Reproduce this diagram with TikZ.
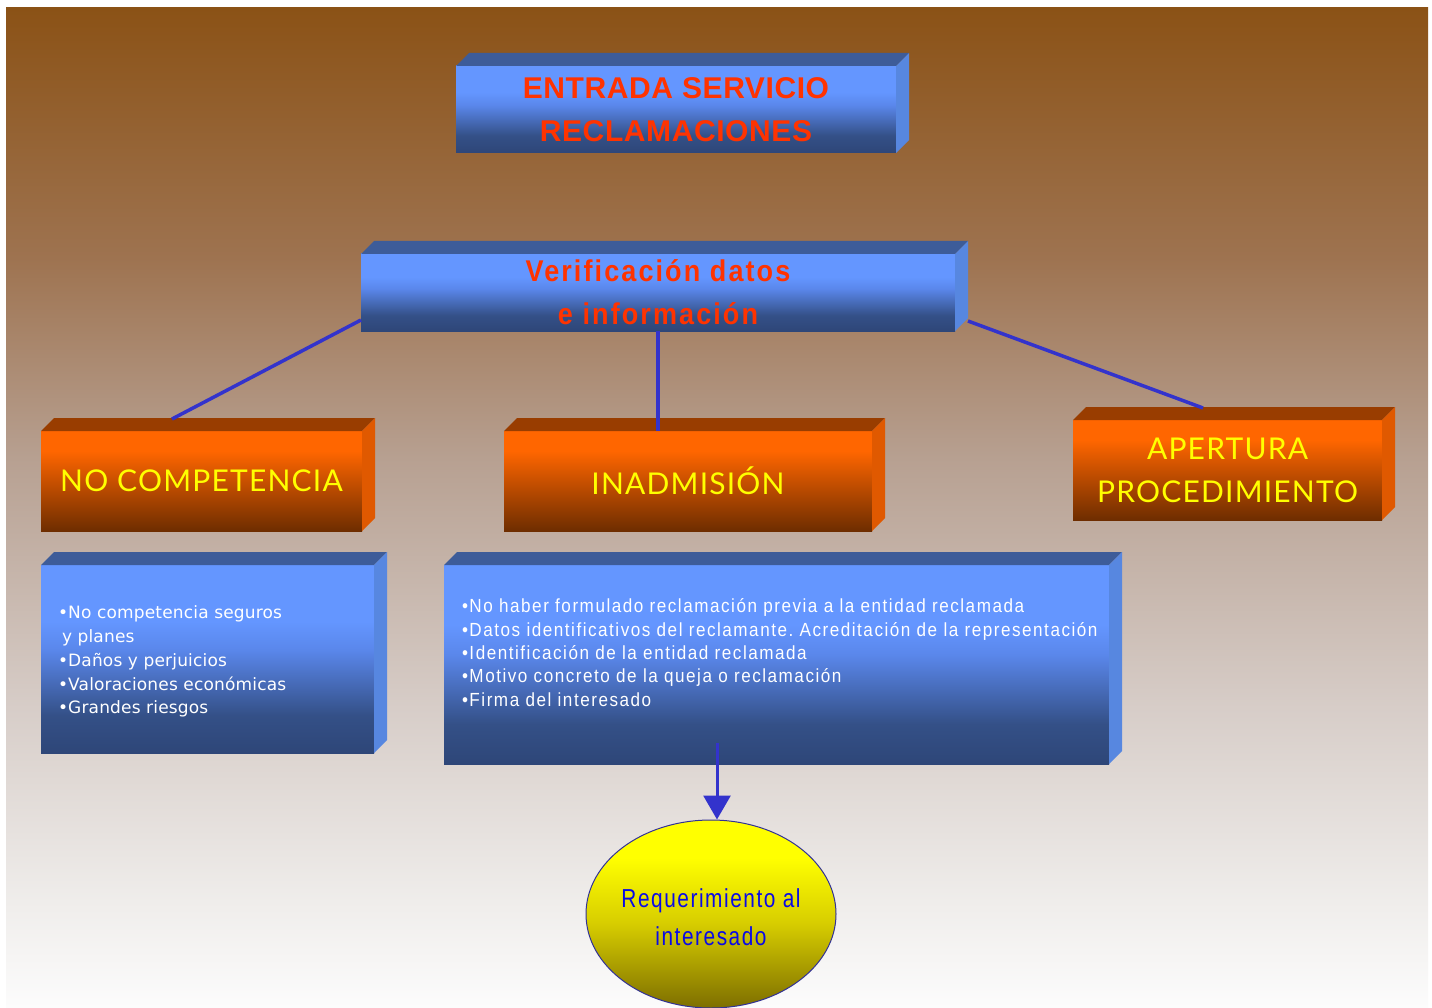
\documentclass[tikz,border=0pt]{standalone}
\usepackage{fontspec}
\setmainfont{Liberation Sans}
\usetikzlibrary{shapes.geometric,arrows.meta}
\frenchspacing
\newfontfamily\hdfont[LetterSpace=2]{Liberation Sans}
\newfontfamily\vfont[FakeStretch=0.9,LetterSpace=7]{Liberation Sans}
\newfontfamily\ofont[LetterSpace=4]{Lato}
\newfontfamily\lfont[LetterSpace=1]{DejaVu Sans}
\newfontfamily\nfont[FakeStretch=0.9,LetterSpace=8]{Liberation Sans}
\newfontfamily\efont[FakeStretch=0.8,LetterSpace=6]{Liberation Sans}

\definecolor{bgA}{RGB}{139,82,22}
\definecolor{bgB}{RGB}{158,115,80}
\definecolor{bgC}{RGB}{183,160,145}
\definecolor{bgD}{RGB}{215,205,200}
\definecolor{bgE}{RGB}{240,238,236}
\definecolor{bgF}{RGB}{252,252,252}
\definecolor{blueA}{RGB}{100,150,255}
\definecolor{blueB}{RGB}{90,135,235}
\definecolor{blueC}{RGB}{52,80,135}
\definecolor{blueD}{RGB}{46,70,120}
\definecolor{bluetop}{RGB}{61,92,153}
\definecolor{blueside}{RGB}{87,135,224}
\definecolor{orA}{RGB}{255,102,0}
\definecolor{orB}{RGB}{200,80,0}
\definecolor{orC}{RGB}{110,45,0}
\definecolor{ortop}{RGB}{153,61,0}
\definecolor{orside}{RGB}{224,89,0}
\definecolor{yelA}{RGB}{255,255,0}
\definecolor{yelB}{RGB}{215,205,0}
\definecolor{yelC}{RGB}{125,110,0}
\definecolor{headred}{RGB}{255,51,0}
\definecolor{headyel}{RGB}{255,255,0}
\definecolor{conncol}{RGB}{51,51,204}
\definecolor{elltext}{RGB}{10,10,230}
\definecolor{ellborder}{RGB}{50,50,150}

% path bounding box maps to 25bp..75bp of these shadings
\pgfdeclareverticalshading{bgshade}{100bp}{color(0bp)=(bgF); color(25bp)=(bgF); color(30bp)=(bgE); color(40bp)=(bgD); color(52.5bp)=(bgC); color(62.5bp)=(bgB); color(75bp)=(bgA); color(100bp)=(bgA)}
\pgfdeclareverticalshading{blueface}{100bp}{color(0bp)=(blueD); color(25bp)=(blueD); color(35bp)=(blueC); color(52.5bp)=(blueB); color(60bp)=(blueA); color(100bp)=(blueA)}
\pgfdeclareverticalshading{orangeface}{100bp}{color(0bp)=(orC); color(25bp)=(orC); color(50bp)=(orB); color(65bp)=(orA); color(100bp)=(orA)}
\pgfdeclareverticalshading{yellowface}{100bp}{color(0bp)=(yelC); color(25bp)=(yelC); color(47.5bp)=(yelB); color(65bp)=(yelA); color(100bp)=(yelA)}

\newcommand\boxfaces[4]{%
  \fill[#3] (#1.north west) -- ++(#2,#2) -- ([shift={(#2,#2)}]#1.north east) -- (#1.north east) -- cycle;
  \fill[#4] (#1.north east) -- ++(#2,#2) -- ([shift={(#2,#2)}]#1.south east) -- (#1.south east) -- cycle;}

\tikzset{
  front/.style={inner sep=0pt, outer sep=0pt, shade, align=center},
  bluefront/.style={front, shading=blueface},
  orangefront/.style={front, shading=orangeface, text=headyel, font={\ofont\fontsize{30}{43}\selectfont}},
  listtext/.style={inner sep=0pt, outer sep=0pt, align=left, text=white, anchor=north west},
  conn/.style={draw=conncol, line width=3.5pt},
  arr/.style={draw=conncol, line width=3pt, -{Triangle[width=27pt,length=24pt]}, fill=conncol}
}

\begin{document}
\begin{tikzpicture}[x=1pt,y=1pt]
\useasboundingbox (0,0) rectangle (1432,-1008);
\fill[white] (0,0) rectangle (1432,-1008);
\shade[shading=bgshade] (6,-8) rectangle (1428,-1008);

% top box
\node[bluefront, minimum width=440pt, minimum height=87pt, text=headred,
  font={\hdfont\bfseries\fontsize{30}{43}\selectfont}] (entrada) at (676,-109.5)
  {ENTRADA SERVICIO\\RECLAMACIONES};
\boxfaces{entrada}{13}{bluetop}{blueside}

% verification box
\node[bluefront, minimum width=594pt, minimum height=77pt, text=headred,
  font={\vfont\bfseries\fontsize{30}{43}\selectfont}] (verif) at (658,-292.5)
  {Verificación datos\\e información};
\boxfaces{verif}{13}{bluetop}{blueside}

% orange boxes
\node[orangefront, minimum width=321pt, minimum height=100pt] (nocomp) at (201.5,-481) {NO COMPETENCIA};
\boxfaces{nocomp}{13}{ortop}{orside}
\node[orangefront, minimum width=368pt, minimum height=100pt] (inadm) at (688,-481) {INADMISIÓN};
\boxfaces{inadm}{13}{ortop}{orside}
\node[orangefront, minimum width=309pt, minimum height=100pt] (apert) at (1227.5,-470) {APERTURA\\PROCEDIMIENTO};
\boxfaces{apert}{13}{ortop}{orside}

% list boxes
\node[bluefront, minimum width=333pt, minimum height=188pt] (list1) at (207.5,-659) {};
\boxfaces{list1}{13}{bluetop}{blueside}
\node[bluefront, minimum width=665pt, minimum height=199pt] (list2) at (776.5,-664.5) {};
\boxfaces{list2}{13}{bluetop}{blueside}

\node[listtext, font={\lfont\fontsize{17}{23.7}\selectfont}] (list1text) at (58,-606)
  {\textbullet No competencia seguros\\\hspace*{4pt}y planes\\\textbullet Daños y perjuicios\\\textbullet Valoraciones económicas\\\textbullet Grandes riesgos};
\node[listtext, font={\nfont\fontsize{19}{23.3}\selectfont}] (list2text) at (462,-599)
  {\textbullet No haber formulado reclamación previa a la entidad reclamada\\
   \textbullet Datos identificativos del reclamante. Acreditación de la representación\\
   \textbullet Identificación de la entidad reclamada\\
   \textbullet Motivo concreto de la queja o reclamación\\
   \textbullet Firma del interesado};

% ellipse
\node[ellipse, shade, shading=yellowface, draw=ellborder, line width=1pt,
  minimum width=250pt, minimum height=188pt, inner sep=0pt] (req) at (711,-914) {};
\node[align=center, text=elltext, inner sep=0pt, font={\efont\fontsize{26}{38}\selectfont}]
  (reqtext) at ([yshift=-3pt]req.center) {Requerimiento al\\interesado};

% connectors
\draw[conn] ([yshift=11pt]verif.south west) -- ([shift={(131,12)}]nocomp.north west);
\draw[conn] (verif.south) -- (verif.south |- inadm.north);
\draw[conn] ([shift={(13,10)}]verif.south east) -- ([shift={(130,12)}]apert.north west);
\coordinate (arrstart) at (717,-743);
\draw[arr] (arrstart) -- (arrstart |- req.north);
\end{tikzpicture}
\end{document}
